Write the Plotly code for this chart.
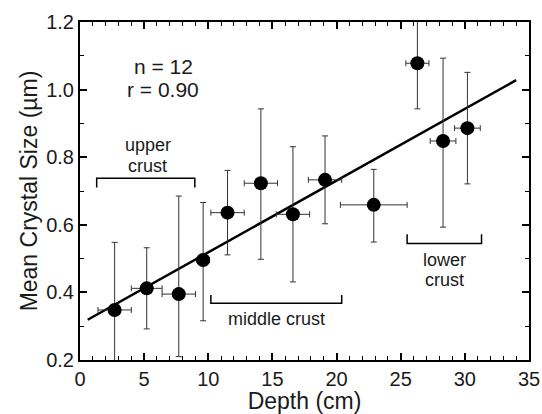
import plotly.graph_objects as go

# Data
depth = [2.7, 5.2, 7.7, 9.6, 11.5, 14.1, 16.6, 19.1, 22.9, 26.3, 28.3, 30.2]
size = [0.348, 0.412, 0.395, 0.496, 0.636, 0.723, 0.631, 0.733, 0.659, 1.078, 0.848, 0.886]
size_err_plus = [0.20, 0.12, 0.29, 0.17, 0.125, 0.22, 0.20, 0.13, 0.105, 0.135, 0.245, 0.165]
size_err_minus = [0.20, 0.12, 0.185, 0.18, 0.125, 0.225, 0.20, 0.13, 0.11, 0.135, 0.255, 0.165]
depth_err = [1.3, 1.2, 1.3, 0.5, 1.3, 1.3, 1.3, 1.3, 2.6, 0.9, 1.0, 1.0]

fit_x = [0.6, 34.0]
fit_y = [0.319, 1.028]

stats_lines = ["n = 12", "r = 0.90"]

# crust brackets: (x0, x1, y, tick_y)
bracket_spans = [
    (1.3, 8.95, 0.738, 0.710),
    (10.2, 20.4, 0.368, 0.392),
    (25.5, 31.3, 0.545, 0.572),
]
# crust labels: (text, x, y)
crust_labels = [
    ("upper", 5.3, 0.836), ("crust", 5.3, 0.775),
    ("middle crust", 15.3, 0.321),
    ("lower", 28.45, 0.496), ("crust", 28.45, 0.437),
]

FONT = "Liberation Sans, Arial, Helvetica, sans-serif"
INK = "#1a1a1a"

fig = go.Figure()

fig.add_trace(go.Scatter(
    x=fit_x, y=fit_y, mode="lines",
    line=dict(color="black", width=2.5),
    hoverinfo="skip", showlegend=False,
))

fig.add_trace(go.Scatter(
    x=depth, y=size, mode="markers",
    marker=dict(color="black", size=14),
    error_y=dict(type="data", symmetric=False, array=size_err_plus,
                 arrayminus=size_err_minus, color="#333", thickness=1, width=3),
    error_x=dict(type="data", array=depth_err, color="#333", thickness=1, width=3),
    showlegend=False,
))

for x0, x1, y, ty in bracket_spans:
    fig.add_shape(type="path",
                  path=f"M {x0},{ty} L {x0},{y} L {x1},{y} L {x1},{ty}",
                  xref="x", yref="y", line=dict(color="black", width=1.5))

for text, lx, ly in crust_labels:
    fig.add_annotation(x=lx, y=ly, xref="x", yref="y", text=text,
                       showarrow=False, font=dict(family=FONT, size=18, color=INK))

for text, ly in zip(stats_lines, [1.068, 0.999]):
    fig.add_annotation(x=6.47, y=ly, xref="x", yref="y", text=text,
                       showarrow=False, font=dict(family=FONT, size=21, color=INK))

fig.update_layout(
    width=542, height=414,
    margin=dict(l=80, r=13, t=22, b=54),
    paper_bgcolor="white", plot_bgcolor="white",
    font=dict(family=FONT, color=INK),
)

fig.update_xaxes(
    range=[0, 35], dtick=5, tick0=0, automargin=False,
    ticks="inside", ticklen=7, tickwidth=1.5, tickcolor="black",
    minor=dict(ticks="inside", dtick=1, ticklen=4, tickwidth=1, tickcolor="black"),
    showline=True, linecolor="black", linewidth=2, mirror="ticks",
    showgrid=False, zeroline=False,
    tickfont=dict(size=20, family=FONT, color=INK),
    title=dict(text="Depth (cm)", font=dict(size=23, family=FONT, color=INK), standoff=3),
)
fig.update_yaxes(
    range=[0.2, 1.2], dtick=0.2, tick0=0.2, tickformat=".1f", automargin=False,
    ticks="inside", ticklen=7, tickwidth=1.5, tickcolor="black",
    minor=dict(ticks="inside", dtick=0.1, ticklen=4, tickwidth=1, tickcolor="black"),
    showline=True, linecolor="black", linewidth=2, mirror="ticks",
    showgrid=False, zeroline=False,
    tickfont=dict(size=20, family=FONT, color=INK),
    title=dict(text="Mean Crystal Size (µm)", font=dict(size=23, family=FONT, color=INK), standoff=2),
)

fig.write_html("out.html")
